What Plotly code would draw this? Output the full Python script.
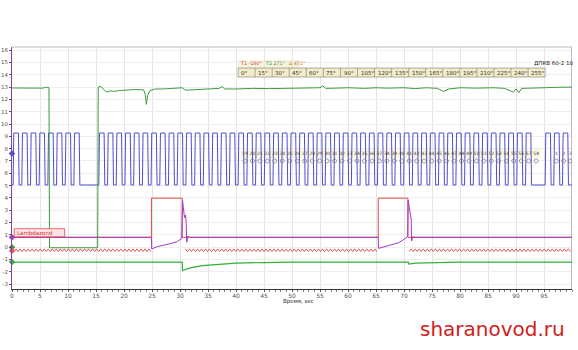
import numpy as np
import plotly.graph_objects as go

# ---------------- data ----------------
# supply voltage channel (green, upper)
green_pts = [(0, 12.93), (3, 12.9), (5.5, 12.92), (6.2, 13.0), (6.6, 12.95), (6.7, -0.05),
             (10, -0.05), (15.3, -0.05), (15.4, 13.0), (15.9, 13.05), (16.5, 12.75), (17.0, 12.6),
             (17.6, 12.7), (18.3, 12.65), (19, 12.72), (20, 12.75), (22, 12.8), (23.5, 12.78),
             (23.8, 12.4), (24.0, 11.6), (24.2, 12.3), (24.6, 12.7), (25.5, 12.85), (27, 12.85),
             (29, 12.9), (30.4, 12.95), (31, 12.75), (33, 12.8), (35, 12.82), (37, 12.9),
             (37.5, 13.05), (38, 12.85), (40, 12.85), (43, 12.9), (46, 12.88), (50, 12.92),
             (53, 12.9), (55, 12.95), (55.5, 13.1), (56, 12.9), (58, 12.92), (60, 12.95),
             (63, 12.9), (65, 12.95), (67, 12.92), (70, 12.95), (72, 12.88), (74, 12.95),
             (76, 12.9), (77, 12.65), (78, 12.85), (80, 12.95), (83, 12.92), (86, 12.95),
             (88, 12.9), (89.5, 12.6), (90, 12.85), (90.5, 12.55), (91, 12.9), (93, 12.95),
             (95, 12.95), (97, 12.98), (100, 13.0)]
green_t = [p[0] for p in green_pts]
green_v = [p[1] for p in green_pts]

# crankshaft sensor (blue square wave): start times of the high pulses
blue_starts = [0.2, 1.75, 3.3, 4.85, 6.4, 7.95, 9.5, 11.05,
               15.5, 17.06, 18.61, 20.17, 21.72, 23.28, 24.83, 26.39, 27.94, 29.5,
               31.05, 32.61, 34.16, 35.72, 37.27, 38.83, 40.38, 41.94, 43.49, 45.05,
               46.6, 48.16, 49.71, 51.27, 52.82, 54.38, 55.93, 57.49, 59.04, 60.6,
               62.15, 63.71, 65.26, 66.82, 68.37, 69.93, 71.48, 73.04, 74.59, 76.15,
               77.7, 79.26, 80.81, 82.37, 83.92, 85.48, 87.03, 88.59, 90.14, 91.7,
               95.2, 96.75, 98.3]
blue_high = 9.27
blue_low = 5.05
blue_width = 0.95

# injector / red pulse channel
red_pts = [(0, 0.8), (24.9, 0.8), (24.9, 3.98), (30.4, 3.98), (30.4, 0.8),
           (65.4, 0.8), (65.4, 3.98), (70.7, 3.98), (70.7, 0.8), (100, 0.8)]
red_t = [p[0] for p in red_pts]
red_v = [p[1] for p in red_pts]

# purple channel
purple_pts = [(0, 0.8), (24.9, 0.8), (24.95, -0.15), (26, 0.05), (28, 0.25), (29.5, 0.45),
              (30.3, 0.7), (30.45, 3.8), (30.6, 3.2), (30.8, 2.4), (31.0, 2.6), (31.1, 2.0),
              (31.2, 0.4), (31.4, 0.9), (31.6, 0.8), (65.4, 0.8), (65.45, -0.1), (67, 0.1),
              (69, 0.35), (70.4, 0.75), (70.65, 0.9), (70.75, 3.8), (71.1, 2.6), (71.3, 2.2),
              (71.35, 0.5), (71.6, 0.85), (72, 0.8), (100, 0.8)]
purple_t = [p[0] for p in purple_pts]
purple_v = [p[1] for p in purple_pts]

# red ripple channel: two ripple levels and gaps
ripple_levels = [-0.14, -0.36]
ripple_gaps = [(24.9, 30.6), (65.4, 70.9)]

# lower green channel
lgreen_pts = [(0, -1.22), (30.4, -1.22), (30.45, -1.9), (31, -1.82), (32, -1.66), (34, -1.5),
              (37, -1.38), (40, -1.3), (45, -1.25), (50, -1.22), (70.8, -1.22), (70.85, -1.38),
              (72, -1.3), (75, -1.25), (80, -1.22), (100, -1.22)]
lgreen_t = [p[0] for p in lgreen_pts]
lgreen_v = [p[1] for p in lgreen_pts]

x_ticks = list(range(0, 100, 5))
y_ticks = list(range(-3, 17))
angle_labels = [f"{a}°" for a in range(0, 256, 15)]
tooth_labels = [str(i) for i in range(19, 59)] + ["1", "2", "3"]

# ---------------- build traces ----------------
bx, by = [], []
bx.append(0); by.append(blue_low)
for s in blue_starts:
    bx += [s, s + 0.12, s + blue_width, s + blue_width + 0.12]
    by += [blue_low, blue_high, blue_high, blue_low]
bx.append(100); by.append(blue_low)

rt = np.arange(0, 100.01, 0.36)
rx, ry = [], []
for i, t in enumerate(rt):
    if any(a <= t <= b for a, b in ripple_gaps):
        rx.append(t); ry.append(None)
    else:
        rx.append(t); ry.append(ripple_levels[i % 2])

FONT = "DejaVu Sans"
fig = go.Figure()
fig.add_trace(go.Scatter(x=bx, y=by, mode="lines", line=dict(color="#4f4fd2", width=1)))
fig.add_trace(go.Scatter(x=rx, y=ry, mode="lines", line=dict(color="#e25a5a", width=1)))
fig.add_trace(go.Scatter(x=lgreen_t, y=lgreen_v, mode="lines", line=dict(color="#33b033", width=1.2)))
fig.add_trace(go.Scatter(x=red_t, y=red_v, mode="lines", line=dict(color="#e44848", width=1)))
fig.add_trace(go.Scatter(x=purple_t, y=purple_v, mode="lines", line=dict(color="#a03cc0", width=1)))
fig.add_trace(go.Scatter(x=green_t, y=green_v, mode="lines", line=dict(color="#3f9a3f", width=1)))

# tooth number labels
n = len(tooth_labels)
tx = list(np.linspace(41.6, 93.6, 40)) + [97.2, 98.5, 99.7]
fig.add_trace(go.Scatter(x=tx, y=[7.6] * n, mode="text", text=tooth_labels,
                         textfont=dict(size=4.5, color="#444", family=FONT)))
fig.add_trace(go.Scatter(x=tx, y=[7.0] * n, mode="markers",
                         marker=dict(symbol="circle-open", size=4, color="#777", line=dict(width=0.7))))

# channel markers on left axis
fig.add_trace(go.Scatter(x=[0, 0, 0, 0, 0], y=[7.6, 0.8, 0.0, -0.3, -1.2], mode="markers",
                         cliponaxis=False,
                         marker=dict(symbol="diamond", size=5,
                                     color=["#4f4fd2", "#a03cc0", "#3f9a3f", "#e25a5a", "#33b033"])))
# cursor triangles at the top
fig.add_trace(go.Scatter(x=[0, 100], y=[16.45, 16.45], mode="markers", cliponaxis=False,
                         marker=dict(symbol="triangle-down", size=8, color="#8a3cb0")))

shapes = []
# header angle table
x0, x1 = 40.36, 95.2
w = (x1 - x0) / len(angle_labels)
shapes.append(dict(type="rect", xref="x", yref="y", x0=x0, x1=x1, y0=13.82, y1=14.55,
                   fillcolor="#f3ecc8", line=dict(color="#888", width=0.7), layer="above"))
shapes.append(dict(type="rect", xref="x", yref="y", x0=x0, x1=x0 + 11, y0=14.55, y1=15.2,
                   fillcolor="#f7f2dc", line=dict(width=0), layer="below"))
annotations = []
for i, lab in enumerate(angle_labels):
    cx = x0 + i * w
    if i > 0:
        shapes.append(dict(type="line", xref="x", yref="y", x0=cx, x1=cx, y0=13.82, y1=14.55,
                           line=dict(color="#888", width=0.7), layer="above"))
    annotations.append(dict(x=cx + 0.2, y=14.18, xref="x", yref="y", text=lab, showarrow=False,
                            xanchor="left", font=dict(size=5.5, color="#333", family=FONT)))
# tooth strip background
shapes.append(dict(type="rect", xref="x", yref="y", x0=40.8, x1=94.4, y0=7.25, y1=7.95,
                   fillcolor="#fbf7dc", line=dict(width=0), layer="below"))
# label box of red channel
shapes.append(dict(type="rect", xref="x", yref="y", x0=0.4, x1=9.4, y0=0.85, y1=1.5,
                   fillcolor="#fde4e4", line=dict(color="#e04848", width=0.8), layer="above"))
# right cursor line
shapes.append(dict(type="line", xref="x", yref="paper", x0=100, x1=100, y0=0, y1=1,
                   line=dict(color="#8a6aa0", width=1)))

# plot area spans pixels x 12..572, y 47..289 (paper coords are relative to it)
def px_x(p):
    return (p - 12) / 560.0

def px_y(p):
    return (289 - p) / 242.0

annotations += [
    dict(x=0.6, y=1.17, xref="x", yref="y", text="Lambdazond", showarrow=False, xanchor="left",
         font=dict(size=5.5, color="#d03030", family=FONT)),
    dict(x=40.4, y=14.9, xref="x", yref="y", text="T1 -180°", showarrow=False, xanchor="left",
         font=dict(size=4.8, color="#d04040", family=FONT)),
    dict(x=44.9, y=14.9, xref="x", yref="y", text="T2 271°", showarrow=False, xanchor="left",
         font=dict(size=4.8, color="#3a9a3a", family=FONT)),
    dict(x=49.1, y=14.9, xref="x", yref="y", text="Δ 451°", showarrow=False, xanchor="left",
         font=dict(size=4.8, color="#d08020", family=FONT)),
    dict(x=px_x(576), y=px_y(63), xref="paper", yref="paper", yanchor="middle",
         text="ДПКВ 60-2 10", showarrow=False, xanchor="right",
         font=dict(size=5.5, color="#222", family=FONT)),
    dict(x=px_x(281), y=px_y(301), xref="paper", yref="paper", text="Время, sec", showarrow=False,
         xanchor="left", yanchor="middle", font=dict(size=5.5, color="#333", family=FONT)),
    dict(x=px_x(492), y=px_y(329), xref="paper", yref="paper", text="sharanovod.ru",
         showarrow=False, xanchor="center", yanchor="middle",
         font=dict(size=20, color="#d02020", family=FONT)),
]

fig.update_layout(
    width=578, height=350, margin=dict(l=12, r=6, t=47, b=61),
    paper_bgcolor="white", plot_bgcolor="white", showlegend=False,
    shapes=shapes, annotations=annotations,
    font=dict(family=FONT, size=6, color="#555"),
)
fig.update_xaxes(range=[0, 100], tickvals=x_ticks, ticktext=[str(v) for v in x_ticks],
                 showgrid=True, gridcolor="#e4e4e4", gridwidth=1, zeroline=False,
                 showline=True, linecolor="#333", linewidth=1, ticks="outside", ticklen=2,
                 tickcolor="#555", tickfont=dict(size=6, color="#555"), ticklabelstandoff=-1,
                 minor=dict(dtick=1, ticks="outside", ticklen=2, tickcolor="#888", showgrid=False),
                 mirror=False, automargin=False)
fig.update_yaxes(range=[-3.4, 16.26], tickvals=y_ticks, ticktext=[str(v) for v in y_ticks],
                 showgrid=True, gridcolor="#eeeeee", gridwidth=1, zeroline=False,
                 showline=True, linecolor="#8a3cb0", linewidth=1, ticks="outside", ticklen=2,
                 tickcolor="#555", tickfont=dict(size=5.5, color="#555"),
                 automargin=False)
# top border
fig.add_shape(type="line", xref="paper", yref="paper", x0=0, x1=1, y0=1, y1=1,
              line=dict(color="#bbb", width=1))

fig.write_html("out.html")
